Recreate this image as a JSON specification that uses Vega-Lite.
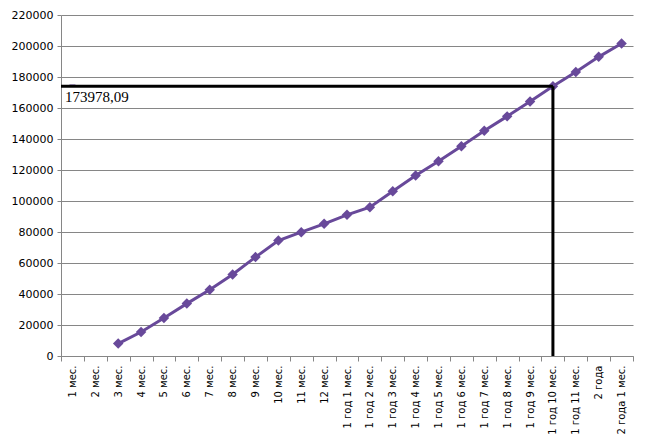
{
  "$schema": "https://vega.github.io/schema/vega-lite/v6.json",
  "width": 572,
  "height": 341,
  "autosize": {"type": "none"},
  "padding": {"left": 61, "top": 15, "right": 16, "bottom": 92},
  "background": "white",
  "config": {
    "view": {"stroke": null},
    "font": "DejaVu Sans",
    "axis": {"labelFont": "DejaVu Sans", "labelColor": "black", "domainColor": "#868686", "tickColor": "#868686", "gridColor": "#868686", "gridOpacity": 1, "domainWidth": 1, "tickWidth": 1, "gridWidth": 1, "labelOverlap": false},
    "axisX": {"labelAngle": -90, "labelAlign": "right", "labelBaseline": "middle", "labelFontSize": 10, "tickBand": "extent", "tickSize": 5, "labelPadding": 4, "grid": false},
    "axisY": {"labelFontSize": 11, "tickSize": 4, "labelPadding": 4, "grid": true}
  },
  "datasets": {
    "series": [
      {"period": "1 мес.", "value": null},
      {"period": "2 мес.", "value": null},
      {"period": "3 мес.", "value": 8000},
      {"period": "4 мес.", "value": 15500},
      {"period": "5 мес.", "value": 24500},
      {"period": "6 мес.", "value": 33800},
      {"period": "7 мес.", "value": 42800},
      {"period": "8 мес.", "value": 52600},
      {"period": "9 мес.", "value": 63800},
      {"period": "10 мес.", "value": 74500},
      {"period": "11 мес.", "value": 79900},
      {"period": "12 мес.", "value": 85300},
      {"period": "1 год 1 мес.", "value": 91100},
      {"period": "1 год 2 мес.", "value": 96000},
      {"period": "1 год 3 мес.", "value": 106300},
      {"period": "1 год 4 мес.", "value": 116400},
      {"period": "1 год 5 мес.", "value": 125600},
      {"period": "1 год 6 мес.", "value": 135300},
      {"period": "1 год 7 мес.", "value": 145300},
      {"period": "1 год 8 мес.", "value": 154600},
      {"period": "1 год 9 мес.", "value": 164200},
      {"period": "1 год 10 мес.", "value": 173978.09},
      {"period": "1 год 11 мес.", "value": 183200},
      {"period": "2 года", "value": 193000},
      {"period": "2 года 1 мес.", "value": 201600}
    ],
    "marker": [
      {"start": "1 мес.", "end": "1 год 10 мес.", "value": 173978.09, "label": "173978,09"}
    ]
  },
  "layer": [
    {
      "data": {"name": "series"},
      "mark": {"type": "line", "color": "#68499A", "strokeWidth": 3},
      "encoding": {
        "x": {
          "field": "period", "type": "ordinal", "sort": null, "title": null,
          "scale": {"paddingInner": 0, "paddingOuter": 0, "domain": ["1 мес.", "2 мес.", "3 мес.", "4 мес.", "5 мес.", "6 мес.", "7 мес.", "8 мес.", "9 мес.", "10 мес.", "11 мес.", "12 мес.", "1 год 1 мес.", "1 год 2 мес.", "1 год 3 мес.", "1 год 4 мес.", "1 год 5 мес.", "1 год 6 мес.", "1 год 7 мес.", "1 год 8 мес.", "1 год 9 мес.", "1 год 10 мес.", "1 год 11 мес.", "2 года", "2 года 1 мес."]}
        },
        "y": {
          "field": "value", "type": "quantitative", "title": null,
          "scale": {"domain": [0, 220000], "nice": false},
          "axis": {"values": [0, 20000, 40000, 60000, 80000, 100000, 120000, 140000, 160000, 180000, 200000, 220000], "format": "d"}
        }
      }
    },
    {
      "data": {"name": "series"},
      "mark": {"type": "point", "shape": "diamond", "filled": true, "color": "#68499A", "size": 110, "opacity": 1},
      "encoding": {
        "x": {"field": "period", "type": "ordinal", "sort": null, "title": null},
        "y": {"field": "value", "type": "quantitative", "title": null, "axis": {"values": [0, 20000, 40000, 60000, 80000, 100000, 120000, 140000, 160000, 180000, 200000, 220000], "format": "d"}}
      }
    },
    {
      "data": {"name": "marker"},
      "mark": {"type": "tick", "color": "#68499A", "size": 6, "thickness": 2, "orient": "horizontal", "yOffset": -1},
      "encoding": {
        "x": {"field": "start", "type": "ordinal", "sort": null, "title": null},
        "y": {"field": "value", "type": "quantitative", "title": null, "axis": {"values": [0, 20000, 40000, 60000, 80000, 100000, 120000, 140000, 160000, 180000, 200000, 220000], "format": "d"}}
      }
    },
    {
      "data": {"name": "marker"},
      "mark": {"type": "rule", "color": "black", "strokeWidth": 3},
      "encoding": {
        "x": {"field": "start", "type": "ordinal", "sort": null, "bandPosition": 0, "title": null},
        "x2": {"field": "end"},
        "y": {"field": "value", "type": "quantitative", "title": null, "axis": {"values": [0, 20000, 40000, 60000, 80000, 100000, 120000, 140000, 160000, 180000, 200000, 220000], "format": "d"}}
      }
    },
    {
      "data": {"name": "marker"},
      "mark": {"type": "rule", "color": "black", "strokeWidth": 3},
      "encoding": {
        "x": {"field": "end", "type": "ordinal", "sort": null, "title": null},
        "y": {"field": "value", "type": "quantitative", "title": null, "axis": {"values": [0, 20000, 40000, 60000, 80000, 100000, 120000, 140000, 160000, 180000, 200000, 220000], "format": "d"}},
        "y2": {"datum": 0}
      }
    },
    {
      "data": {"name": "marker"},
      "mark": {"type": "text", "font": "Liberation Serif", "fontSize": 15, "align": "left", "baseline": "top", "dx": 4, "dy": 4, "color": "black"},
      "encoding": {
        "x": {"field": "start", "type": "ordinal", "sort": null, "bandPosition": 0, "title": null},
        "y": {"field": "value", "type": "quantitative", "title": null, "axis": {"values": [0, 20000, 40000, 60000, 80000, 100000, 120000, 140000, 160000, 180000, 200000, 220000], "format": "d"}},
        "text": {"field": "label"}
      }
    }
  ]
}
